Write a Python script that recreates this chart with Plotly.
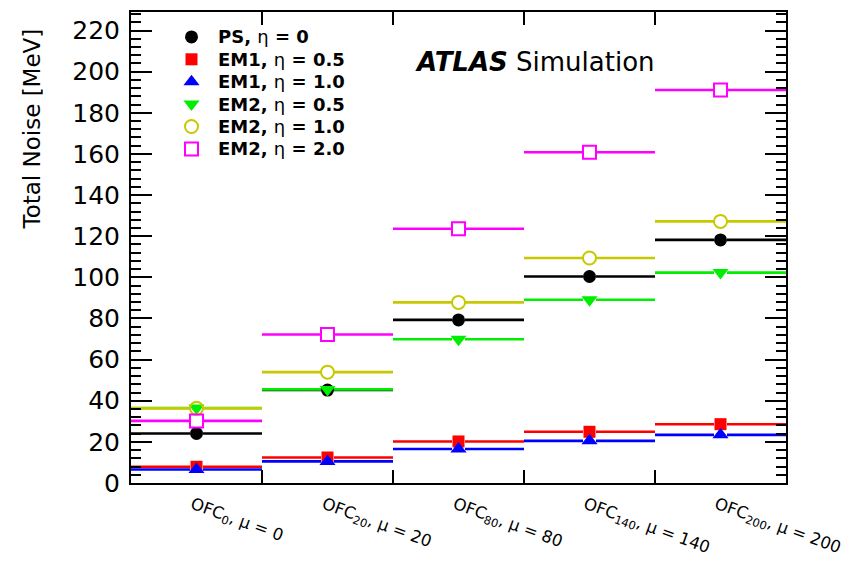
import plotly.graph_objects as go

# ---- data ----
categories = ["OFC<sub>0</sub>, μ = 0", "OFC<sub>20</sub>, μ = 20", "OFC<sub>80</sub>, μ = 80",
              "OFC<sub>140</sub>, μ = 140", "OFC<sub>200</sub>, μ = 200"]
series_names = ["<b>PS, </b>η<b> = 0</b>", "<b>EM1, </b>η<b> = 0.5</b>", "<b>EM1, </b>η<b> = 1.0</b>",
                "<b>EM2, </b>η<b> = 0.5</b>", "<b>EM2, </b>η<b> = 1.0</b>", "<b>EM2, </b>η<b> = 2.0</b>"]
ps_eta0 = [24.1, 45.2, 79.3, 100.4, 118.2]
em1_eta05 = [7.9, 12.4, 20.2, 24.9, 28.6]
em1_eta10 = [6.6, 10.5, 16.5, 20.5, 23.4]
em2_eta05 = [36.5, 45.5, 69.9, 89.1, 102.3]
em2_eta10 = [36.3, 53.9, 87.8, 109.4, 127.2]
em2_eta20 = [30.2, 72.2, 123.6, 160.8, 191.1]
y_ticks = list(range(0, 221, 20))

values = [ps_eta0, em1_eta05, em1_eta10, em2_eta05, em2_eta10, em2_eta20]
colors = ["#000000", "#ff0000", "#0000ff", "#00ee00", "#c8c800", "#ff00ff"]
symbols = ["circle", "square", "triangle-up", "triangle-down", "circle-open", "square-open"]
msizes = [13, 12, 14, 14, 13, 13]

FONT = "DejaVu Sans"
L, R, T, B = 131, 70, 10, 79
W, H = 856, 562
ph = H - T - B
pw = W - L - R

fig = go.Figure()
gap = 6.5 / (pw / 5.0)
for vals, col, sym, ms in zip(values, colors, symbols, msizes):
    xs, ys = [], []
    for i, v in enumerate(vals):
        xs += [i, i + 0.5 - gap, None, i + 0.5 + gap, i + 1, None]
        ys += [v, v, None, v, v, None]
    fig.add_trace(go.Scatter(x=xs, y=ys, mode="lines", line=dict(color=col, width=2.6),
                             showlegend=False, hoverinfo="skip"))
    fig.add_trace(go.Scatter(x=[i + 0.5 for i in range(len(vals))], y=vals, mode="markers",
                             marker=dict(symbol=sym, size=ms, color=col,
                                         line=dict(color=col, width=2 if "open" in sym else 0)),
                             showlegend=False))

# manual legend on an overlay axis
row_px = [35 + 22.5 * k for k in range(len(series_names))]
leg_y = [(H - B - p) / ph for p in row_px]
for k, (name, col, sym, ms) in enumerate(zip(series_names, colors, symbols, msizes)):
    fig.add_trace(go.Scatter(x=[(191.5 - L) / pw], y=[leg_y[k]], xaxis="x2", yaxis="y2",
                             mode="markers",
                             marker=dict(symbol=sym, size=ms, color=col,
                                         line=dict(color=col, width=2 if "open" in sym else 0)),
                             showlegend=False, hoverinfo="skip"))
    fig.add_annotation(text=name, xref="paper", yref="paper", x=(216 - L) / pw, y=leg_y[k],
                       xanchor="left", yanchor="middle", showarrow=False,
                       font=dict(family=FONT, size=18, color="black"))

# category labels (rotated)
for i, c in enumerate(categories):
    fig.add_annotation(text=c, xref="x", yref="paper", x=i + 0.5 - 10.0 / (pw / 5.0),
                       y=(H - B - 493) / ph, xanchor="left", yanchor="top", showarrow=False,
                       textangle=20, borderpad=0,
                       font=dict(family=FONT, size=16.5, color="black"))

fig.add_annotation(text="<b><i>ATLAS</i></b> Simulation", xref="paper", yref="paper",
                   x=(413 - L) / pw, y=(H - B - 60) / ph, xanchor="left", yanchor="middle",
                   showarrow=False, font=dict(family=FONT, size=26, color="black"))
fig.add_annotation(text="Total Noise [MeV]", xref="paper", yref="paper",
                   x=(32 - L) / pw, y=(H - B - 128) / ph, xanchor="center", yanchor="middle",
                   textangle=-90, showarrow=False, font=dict(family=FONT, size=23, color="black"))

fig.update_layout(
    width=W, height=H, margin=dict(l=L, r=R, t=T, b=B),
    paper_bgcolor="white", plot_bgcolor="white", showlegend=False,
    font=dict(family=FONT, color="black"),
    xaxis=dict(range=[0, 5], tickvals=list(range(6)), showticklabels=False, ticks="inside",
               ticklen=13, tickwidth=1.5, tickcolor="black", showline=True, linecolor="black",
               linewidth=2, mirror="ticks", showgrid=False, zeroline=False, fixedrange=True),
    yaxis=dict(range=[0, 229], tickvals=y_ticks, ticks="inside", ticklen=21, tickwidth=1.5,
               tickcolor="black", showline=True, linecolor="black", linewidth=2, mirror="ticks",
               showgrid=False, zeroline=False, tickfont=dict(family=FONT, size=25, color="black"),
               ticklabelstandoff=4,
               minor=dict(dtick=4, ticks="inside", ticklen=10, tickwidth=1.5, tickcolor="black",
                          showgrid=False)),
    xaxis2=dict(range=[0, 1], overlaying="x", visible=False, fixedrange=True),
    yaxis2=dict(range=[0, 1], overlaying="y", visible=False, fixedrange=True),
)

fig.write_html("out.html")
